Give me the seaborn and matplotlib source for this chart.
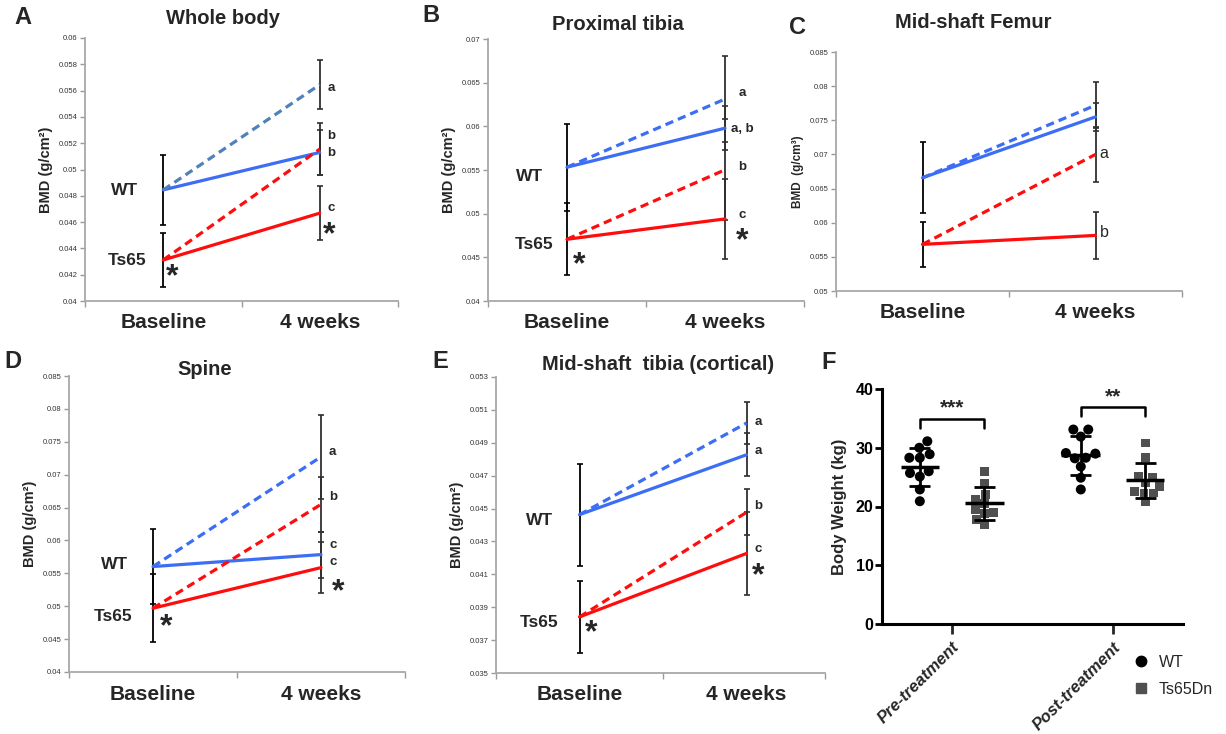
import numpy as np
import pandas as pd
import matplotlib
matplotlib.use("Agg")
import matplotlib.pyplot as plt
import seaborn as sns
from matplotlib.lines import Line2D

W, H = 1226, 734
sns.set_theme(style="white")
plt.rcParams['font.family'] = ['Liberation Sans', 'DejaVu Sans']

# ---------------- data ----------------
time_labels = ["Baseline", "4 weeks"]
series_names = ["WT", "WT treated", "Ts65", "Ts65 treated"]

# A: Whole body  (baseline: WT, Ts65 ; 4 weeks: WT, WT treated, Ts65, Ts65 treated)
wb_base = [0.04845, 0.04312]
wb_base_sd = [0.00265, 0.00203]
wb_4wk = [0.0513, 0.05645, 0.04668, 0.05155]
wb_4wk_sd = [0.0017, 0.00187, 0.00204, 0.0020]
wb_letters = ["b", "a", "c", "b"]

# B: Proximal tibia
pt_base = [0.05532, 0.04707]
pt_base_sd = [0.0050, 0.0041]
pt_4wk = [0.05979, 0.06312, 0.0494, 0.05502]
pt_4wk_sd = [0.0025, 0.0049, 0.0046, 0.0058]
pt_letters = ["a, b", "a", "c", "b"]

# C: Mid-shaft femur
mf_base = [0.06658, 0.05683]
mf_base_sd = [0.0052, 0.0033]
mf_4wk = [0.0755, 0.0772, 0.05814, 0.0700]
mf_4wk_sd = [0.0021, 0.0034, 0.0035, 0.0040]
mf_letters = ["", "", "b", "a"]

# D: Spine
sp_base = [0.05603, 0.0497]
sp_base_sd = [0.0057, 0.0052]
sp_4wk = [0.05785, 0.07271, 0.05587, 0.06548]
sp_4wk_sd = [0.0035, 0.0064, 0.0039, 0.0042]
sp_letters = ["c", "a", "c", "b"]

# E: Mid-shaft tibia (cortical)
mt_base = [0.04463, 0.03841]
mt_base_sd = [0.0031, 0.0022]
mt_4wk = [0.04827, 0.0502, 0.04227, 0.04477]
mt_4wk_sd = [0.0013, 0.0013, 0.0025, 0.0014]
mt_letters = ["a", "a", "c", "b"]

# F: Body weight
phases = ["Pre-treatment", "Post-treatment"]
genotypes = ["WT", "Ts65Dn"]
bw_pre_wt = [31.1, 30.0, 28.9, 28.3, 28.3, 26.0, 25.7, 25.1, 22.9, 20.9]
bw_pre_ts = [26.0, 24.0, 22.0, 21.2, 20.5, 19.5, 19.0, 18.8, 17.8, 16.9]
bw_post_wt = [33.1, 33.1, 31.9, 29.0, 29.1, 28.3, 28.2, 26.8, 24.9, 22.9]
bw_post_ts = [30.8, 28.3, 25.1, 24.9, 23.4, 24.0, 22.6, 22.3, 22.3, 20.8]
sig_labels = ["***", "**"]

# ---------------- style ----------------
BLUE = "#3c6ef5"
STEEL = "#4f81bd"
RED = "#ff0d0d"
DARK = "#303030"

fig = plt.figure(figsize=(W / 100, H / 100), dpi=100)


def ax_px(left, top, right, bottom):
    return fig.add_axes([left / W, 1 - bottom / H, (right - left) / W, (bottom - top) / H])


def ftext(x, y, s, **kw):
    fig.text(x / W, 1 - y / H, s, **kw)


def bmd_frame(base, wk):
    base_map = [base[0], base[0], base[1], base[1]]
    rows = []
    for name, b, w in zip(series_names, base_map, wk):
        rows.append({"time": 0, "bmd": b, "series": name})
        rows.append({"time": 1, "bmd": w, "series": name})
    return pd.DataFrame(rows)


def draw_bmd(ax, base, base_sd, wk, wk_sd, ylim, step, xlim, ylabel,
             wt_dash=BLUE, ylabel_size=10.5):
    df = bmd_frame(base, wk)
    pal = {"WT": BLUE, "WT treated": wt_dash, "Ts65": RED, "Ts65 treated": RED}
    dashes = {"WT": "", "WT treated": (2.6, 1.6), "Ts65": "", "Ts65 treated": (2.6, 1.6)}
    ax.errorbar([0, 0], base, yerr=base_sd, fmt="none", ecolor="black",
                elinewidth=1.3, capsize=2.5, capthick=1.2, zorder=2)
    ax.errorbar([1] * 4, wk, yerr=wk_sd, fmt="none", ecolor=DARK,
                elinewidth=1.3, capsize=2.5, capthick=1.2, zorder=2)
    sns.lineplot(data=df, x="time", y="bmd", hue="series", style="series",
                 palette=pal, dashes=dashes, linewidth=2.3, legend=False,
                 errorbar=None, ax=ax, zorder=3)
    ax.set_xlim(*xlim)
    ax.set_ylim(*ylim)
    ticks = np.arange(ylim[0], ylim[1] + step / 2, step)
    ax.set_yticks(ticks)
    ax.set_yticklabels([f"{round(t, 4):g}" for t in ticks], fontsize=5.5, color="#333333")
    ax.set_xticks([0, 1])
    ax.set_xticklabels(time_labels, fontsize=15, fontweight="bold")
    ax.set_xticks([xlim[0], 0.5, xlim[1]], minor=True)
    ax.tick_params(axis="x", which="major", length=0, pad=9, bottom=True)
    ax.tick_params(axis="x", which="minor", length=4, color="#9a9a9a", width=1,
                   direction="out", bottom=True)
    ax.tick_params(axis="y", length=3.5, color="#9a9a9a", width=1, direction="out",
                   pad=2, left=True)
    for s in ["top", "right"]:
        ax.spines[s].set_visible(False)
    for s in ["left", "bottom"]:
        ax.spines[s].set_color("#a8a8a8")
        ax.spines[s].set_linewidth(1.3)
    ax.set_xlabel("")
    ax.set_ylabel(ylabel, fontsize=ylabel_size, fontweight="bold")


def annotate(ax, letters, letter_pos, group_pos, star_pos, letter_kw=None):
    kw = dict(fontsize=9.5, fontweight="bold", ha="center", va="center")
    if letter_kw:
        kw.update(letter_kw)
    for txt, (x, y) in zip(letters, letter_pos):
        if txt:
            ax.text(x, y, txt, **kw)
    for txt, (x, y) in zip(["WT", "Ts65"], group_pos):
        if x is not None:
            ax.text(x, y, txt, fontsize=12.5, fontweight="bold", ha="center", va="center")
    for (x, y) in star_pos:
        ax.text(x, y, "*", fontsize=23, fontweight="bold", ha="center", va="center")


# ---- A ----
axA = ax_px(85, 38, 398, 301)
draw_bmd(axA, wb_base, wb_base_sd, wb_4wk, wb_4wk_sd, (0.04, 0.06), 0.002,
         (-0.5, 1.5), "BMD (g/cm²)", wt_dash=STEEL)
annotate(axA, wb_letters,
         [(1.075, 0.05124), (1.075, 0.0562), (1.075, 0.04706), (1.075, 0.05256)],
         [(-0.25, 0.0484), (-0.23, 0.0431)],
         [(0.06, 0.0418), (1.06, 0.0450)])

# ---- B ----
axB = ax_px(488, 39, 804, 301)
draw_bmd(axB, pt_base, pt_base_sd, pt_4wk, pt_4wk_sd, (0.04, 0.07), 0.005,
         (-0.5, 1.5), "BMD (g/cm²)")
annotate(axB, pt_letters,
         [(1.11, 0.05968), (1.11, 0.0638), (1.11, 0.04986), (1.11, 0.0554)],
         [(-0.24, 0.0543), (-0.21, 0.0465)],
         [(0.08, 0.0441), (1.11, 0.0468)])

# ---- C ----
axC = ax_px(836, 52, 1182, 291)
draw_bmd(axC, mf_base, mf_base_sd, mf_4wk, mf_4wk_sd, (0.05, 0.085), 0.005,
         (-0.5, 1.5), "BMD  (g/cm³)", ylabel_size=8.5)
annotate(axC, mf_letters,
         [(1.05, 0), (1.05, 0), (1.05, 0.0586), (1.05, 0.0701)],
         [(None, None), (None, None)], [],
         letter_kw=dict(fontweight="normal", fontsize=11.5))

# ---- D ----
axD = ax_px(69, 376, 405, 672)
draw_bmd(axD, sp_base, sp_base_sd, sp_4wk, sp_4wk_sd, (0.04, 0.085), 0.005,
         (-0.5, 1.5), "BMD (g/cm²)")
annotate(axD, sp_letters,
         [(1.07, 0.05931), (1.07, 0.07337), (1.07, 0.05678), (1.07, 0.06664)],
         [(-0.23, 0.0564), (-0.24, 0.0484)],
         [(0.08, 0.0468), (1.1, 0.0522)])

# ---- E ----
axE = ax_px(496, 377, 825, 673)
draw_bmd(axE, mt_base, mt_base_sd, mt_4wk, mt_4wk_sd, (0.035, 0.053), 0.002,
         (-0.5, 1.47), "BMD (g/cm²)")
annotate(axE, mt_letters,
         [(1.07, 0.04851), (1.07, 0.05024), (1.07, 0.04254), (1.07, 0.04518)],
         [(-0.24, 0.0443), (-0.24, 0.0381)],
         [(0.07, 0.0374), (1.07, 0.0409)])

# ---- F ----
axF = ax_px(882, 389, 1183, 624)
rows = []
for ph, wt, ts in zip(phases, [bw_pre_wt, bw_post_wt], [bw_pre_ts, bw_post_ts]):
    for v in wt:
        rows.append({"phase": ph, "genotype": "WT", "weight": v})
    for v in ts:
        rows.append({"phase": ph, "genotype": "Ts65Dn", "weight": v})
dfF = pd.DataFrame(rows)
fpal = {"WT": "black", "Ts65Dn": "#505050"}
sns.swarmplot(data=dfF[dfF.genotype == "WT"], x="phase", y="weight", hue="genotype",
              order=phases, hue_order=genotypes, dodge=True, palette=fpal,
              marker="o", size=7.2, legend=False, ax=axF, zorder=3)
sns.swarmplot(data=dfF[dfF.genotype == "Ts65Dn"], x="phase", y="weight", hue="genotype",
              order=phases, hue_order=genotypes, dodge=True, palette=fpal,
              marker="s", size=6.4, legend=False, ax=axF, zorder=3)

offsets = {"WT": -0.2, "Ts65Dn": 0.2}
for i, ph in enumerate(phases):
    for g in genotypes:
        vals = dfF[(dfF.phase == ph) & (dfF.genotype == g)].weight.to_numpy()
        m, s = vals.mean(), vals.std(ddof=1)
        x = i + offsets[g]
        axF.hlines(m, x - 0.12, x + 0.12, color="black", lw=2.5, zorder=4)
        axF.vlines(x, m - s, m + s, color="black", lw=2, zorder=4)
        axF.hlines([m - s, m + s], x - 0.065, x + 0.065, color="black", lw=2, zorder=4)
    top = dfF[dfF.phase == ph].weight.max() + 3.8
    x0, x1 = i + offsets["WT"], i + offsets["Ts65Dn"]
    axF.plot([x0, x0, x1, x1], [top - 1.5, top, top, top - 1.5], color="black", lw=1.8)
    axF.text((x0 + x1) / 2, top + 0.2, sig_labels[i], ha="center", va="bottom",
             fontsize=15, fontweight="bold")

axF.set_xlim(-0.435, 1.435)
axF.set_ylim(0, 40)
axF.set_yticks([0, 10, 20, 30, 40])
axF.set_xlabel("")
axF.set_ylabel("Body Weight (kg)", fontsize=12, fontweight="bold", labelpad=6)
for s in ["top", "right"]:
    axF.spines[s].set_visible(False)
for s in ["left", "bottom"]:
    axF.spines[s].set_color("black")
    axF.spines[s].set_linewidth(2.2)
axF.tick_params(axis="y", labelsize=11.5, width=2, length=5, direction="out", left=True,
                pad=1, colors="black")
axF.tick_params(axis="x", width=2, length=7, direction="out", bottom=True, pad=4)
for lab in axF.get_yticklabels():
    lab.set_fontweight("bold")
axF.set_xticks([0, 1])
axF.set_xticklabels(phases, rotation=45, ha="right", va="top", rotation_mode="anchor",
                    fontsize=12, fontweight="bold", fontstyle="italic")

handles = [Line2D([], [], marker="o", ls="none", color="black", markersize=7.5),
           Line2D([], [], marker="s", ls="none", color="#505050", markersize=6.5)]
fig.legend(handles, genotypes, loc="center left",
           bbox_to_anchor=(1119 / W, 1 - 676 / H), frameon=False, fontsize=11.5,
           handletextpad=0.6, labelspacing=0.75, handlelength=1.0)

# ---- titles and panel letters ----
for x, y, t in [(223, 19, "Whole body"), (618, 24, "Proximal tibia"),
                (973, 23, "Mid-shaft Femur"), (205, 369, "Spine"),
                (658, 364, "Mid-shaft  tibia (cortical)")]:
    ftext(x, y, t, ha="center", va="center", fontsize=14.5, fontweight="bold")
for x, y, t in [(14, 17, "A"), (422, 16, "B"), (789, 28, "C"), (4, 361, "D"),
                (432, 361, "E"), (821, 362, "F")]:
    ftext(x, y, t, ha="left", va="center", fontsize=17, fontweight="bold")

fig.savefig("out.png", dpi=100)
